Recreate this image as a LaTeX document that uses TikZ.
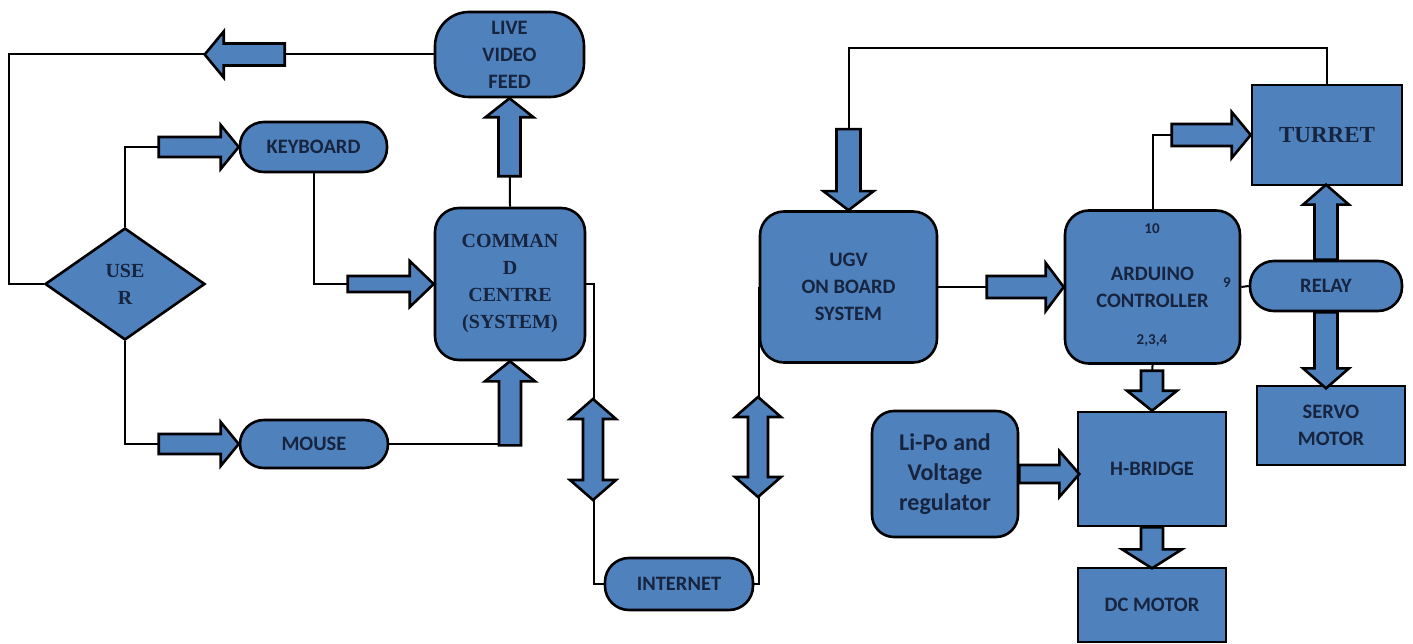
\documentclass[tikz,border=0pt]{standalone}
\usepackage{fontspec}
\setmainfont{Liberation Serif}
\newfontfamily\calib{Carlito}
\usetikzlibrary{shapes.geometric,calc}
\definecolor{boxfill}{RGB}{79,129,189}
\definecolor{txt}{RGB}{23,36,63}
\tikzset{
 base/.style={draw=black,line width=2.6pt,fill=boxfill,text=txt,inner sep=0pt,align=center},
 rbox/.style={base,rectangle,rounded corners=24pt},
 sbox/.style={base,rectangle},
 pill/.style={base,rectangle,rounded corners=24pt},
 sanstxt/.style={font=\calib\bfseries\fontsize{20.5}{27}\selectfont},
 seriftxt/.style={font=\bfseries\fontsize{20}{27}\selectfont},
 pintxt/.style={text=txt,font=\calib\bfseries\fontsize{15}{17}\selectfont,inner sep=0pt},
 conn/.style={draw=black,line width=2pt},
 arr/.style={draw=black,line width=2.6pt,fill=boxfill,line join=miter},
 pics/barrow/.style args={#1/#2/#3/#4}{code={
   \path[arr] (0,-#2) -- ({#1-#4},-#2) -- ({#1-#4},-#3) -- (#1,0) -- ({#1-#4},#3) -- ({#1-#4},#2) -- (0,#2) -- cycle;}},
 pics/dbarrow/.style args={#1/#2/#3/#4}{code={
   \path[arr] (0,0) -- (#4,-#3) -- (#4,-#2) -- ({#1-#4},-#2) -- ({#1-#4},-#3) -- (#1,0) -- ({#1-#4},#3) -- ({#1-#4},#2) -- (#4,#2) -- (#4,#3) -- cycle;}},
}
\begin{document}
\begin{tikzpicture}[x=1pt,y=-1pt]
\useasboundingbox[fill=white] (0,0) rectangle (1413,644);

% nodes
\node[base,rectangle,rounded corners=34pt,sanstxt,minimum width=149pt,minimum height=85pt] (lvf) at (509.5,54.5) {LIVE\\VIDEO\\FEED};
\node[pill,sanstxt,minimum width=147pt,minimum height=50pt] (keyboard) at (313.5,147) {KEYBOARD};
\node[pill,sanstxt,minimum width=148pt,minimum height=48pt] (mouse) at (314,444) {MOUSE};
\node[base,diamond,seriftxt,minimum width=160pt,minimum height=112pt,aspect=1.43] (user) at (125,284) {USE\\R};
\node[rbox,seriftxt,minimum width=150pt,minimum height=152pt] (cc) at (510,284) {COMMAN\\D\\CENTRE\\(SYSTEM)};
\node[pill,sanstxt,minimum width=148pt,minimum height=52pt] (internet) at (679,584) {INTERNET};
\node[rbox,sanstxt,minimum width=177pt,minimum height=151pt] (ugv) at (848.5,287) {UGV\\ON BOARD\\SYSTEM};
\node[rbox,rounded corners=22pt,font=\calib\bfseries\fontsize{24}{30}\selectfont,minimum width=146pt,minimum height=126pt] (lipo) at (945,474) {Li-Po and\\Voltage\\regulator};
\node[rbox,sanstxt,minimum width=175pt,minimum height=153pt] (arduino) at (1152.5,287) {ARDUINO\\CONTROLLER};
\node[sbox,font=\bfseries\fontsize{23}{27}\selectfont,minimum width=150pt,minimum height=100pt] (turret) at (1327,135) {TURRET};
\node[pill,sanstxt,minimum width=152pt,minimum height=50pt] (relay) at (1326,286) {RELAY};
\node[sbox,sanstxt,minimum width=148pt,minimum height=79pt] (servo) at (1331,425.5) {SERVO\\MOTOR};
\node[sbox,sanstxt,minimum width=148pt,minimum height=114pt] (hbridge) at (1152,469) {H-BRIDGE};
\node[sbox,sanstxt,minimum width=148pt,minimum height=74pt] (dcmotor) at (1152,605) {DC MOTOR};

% pin labels
\node[pintxt] (p10) at (1152,229) {10};
\node[pintxt] (p9) at (1227,283) {9};
\node[pintxt] (p234) at (1152,341) {2,3,4};

% connector lines
\coordinate (cl) at (9,54.5);
\draw[conn] (lvf.west) -- (cl) |- (user.west);
\draw[conn] (user.north) |- (keyboard.west);
\draw[conn] (keyboard.south) |- (cc.west);
\draw[conn] (user.south) |- (mouse.west);
\draw[conn] (mouse.east) -| (cc.south);
\draw[conn] (cc.north) -- (lvf.south);
\draw[conn] (cc.east) -- ++(8,0) |- (internet.west);
\draw[conn] (internet.east) -| (ugv.west);
\draw[conn] (turret.north) -- ++(0,-36) -| (ugv.north);
\draw[conn] (ugv.east) -- (arduino.west);
\draw[conn] (arduino.north) |- (turret.west);
\draw[conn] (arduino.east) -- (relay.west);
\draw[conn] (arduino.south) -- (hbridge.north);

% block arrows
\pic[rotate=180] at ($(lvf.west)+(-149,0)$) {barrow=80/11/23/19};
\pic at ($(keyboard.west)+(-80,0)$) {barrow=80/10/22/18};
\pic at ($(cc.west)+(-86,0)$) {barrow=86/8/23/24};
\pic at ($(mouse.west)+(-80,0)$) {barrow=80/10/22/18};
\pic[rotate=90] at ($(cc.south)+(0,84)$) {barrow=84/11/25/20};
\pic[rotate=90] at ($(lvf.south)+(0,78)$) {barrow=78/11/24/19};
\pic[rotate=-90] at (593,399) {dbarrow=101/10/23/20};
\pic[rotate=-90] at (758,397) {dbarrow=100/10/23/20};
\pic[rotate=-90] at ($(ugv.north)+(0,-81)$) {barrow=81/12/25/19};
\pic at ($(arduino.west)+(-77,0)$) {barrow=77/11/24/18};
\pic at ($(turret.west)+(-79,0)$) {barrow=79/11/23/19};
\pic[rotate=90] at (relay.north) {barrow=75/11.5/23/20};
\pic[rotate=-90] at (relay.south) {barrow=76/11.5/23/20};
\pic[rotate=-90] at ($(hbridge.north)+(0,-40)$) {barrow=40/11/25/20};
\pic at (lipo.east) {barrow=60/9/23/20};
\pic[rotate=-90] at (hbridge.south) {barrow=41/11/30/19};
\end{tikzpicture}
\end{document}
